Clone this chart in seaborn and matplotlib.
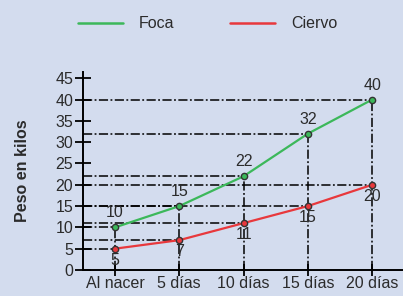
import pandas as pd
import seaborn as sns
import matplotlib.pyplot as plt
from matplotlib.lines import Line2D

# data
etapas = ['Al nacer', '5 días', '10 días', '15 días', '20 días']
foca = [10, 15, 22, 32, 40]
ciervo = [5, 7, 11, 15, 20]
y_ticks = [0, 5, 10, 15, 20, 25, 30, 35, 40, 45]

BG = '#d3dcee'
VERDE = '#3cb85a'
ROJO = '#e8383c'
TXT = '#2b2b2b'


def build_df():
    rows = []
    for i, et in enumerate(etapas):
        rows.append({'pos': i, 'etapa': et, 'peso': foca[i], 'animal': 'Foca'})
        rows.append({'pos': i, 'etapa': et, 'peso': ciervo[i], 'animal': 'Ciervo'})
    return pd.DataFrame(rows)


def main():
    sns.set_style('white')
    plt.rcParams['font.family'] = ['Liberation Sans', 'DejaVu Sans']

    df = build_df()

    fig = plt.figure(figsize=(4.03, 2.96), dpi=100, facecolor=BG)
    ax = fig.add_axes([0.206, 0.088, 0.794, 0.669])
    ax.set_facecolor(BG)

    xmin, xmax = -0.498, 4.48
    ax.set_xlim(xmin, xmax)
    ax.set_ylim(0, 46.5)

    # guide lines (dash-dot) from the axes to every point
    dash = (0, (6, 1.6, 1.2, 1.6))
    for i in range(len(etapas)):
        top = max(foca[i], ciervo[i])
        ax.plot([i, i], [0, top], color='black', lw=1.1, ls=dash, zorder=1)
        for v in (foca[i], ciervo[i]):
            ax.plot([xmin, i], [v, v], color='black', lw=1.1, ls=dash, zorder=1)

    sns.lineplot(data=df, x='pos', y='peso', hue='animal',
                 palette={'Foca': VERDE, 'Ciervo': ROJO},
                 marker='o', markersize=4.5, markeredgecolor='#333333',
                 markeredgewidth=1.0, lw=1.6, legend=False, ax=ax, zorder=3)

    # value labels
    for i in range(len(etapas)):
        ax.annotate(str(foca[i]), (i, foca[i]), xytext=(0, 5), textcoords='offset points',
                    ha='center', va='bottom', fontsize=11.5, color=TXT)
        ax.annotate(str(ciervo[i]), (i, ciervo[i]), xytext=(0, -3), textcoords='offset points',
                    ha='center', va='top', fontsize=11.5, color=TXT)

    ax.set_xticks(range(len(etapas)))
    ax.set_xticklabels(etapas)
    ax.set_yticks(y_ticks)
    ax.tick_params(axis='both', direction='inout', length=12, width=1.3,
                   left=True, bottom=True,
                   colors='black', labelcolor=TXT, labelsize=11.5, pad=1)
    ax.tick_params(axis='x', length=9, pad=0)

    for s in ['top', 'right']:
        ax.spines[s].set_visible(False)
    for s in ['left', 'bottom']:
        ax.spines[s].set_color('black')
        ax.spines[s].set_linewidth(1.4)

    ax.set_xlabel('')
    ax.set_ylabel('Peso en kilos', fontsize=11.5, fontweight='bold', color=TXT, labelpad=18)

    handles = [Line2D([], [], color=VERDE, lw=1.8), Line2D([], [], color=ROJO, lw=1.8)]
    fig.legend(handles, ['Foca', 'Ciervo'], loc='center', bbox_to_anchor=(0.515, 0.92),
               ncol=2, frameon=False, fontsize=11.5, handlelength=2.8,
               columnspacing=3.5, handletextpad=1.0, labelcolor=TXT)

    fig.savefig('out.png', dpi=100, facecolor=BG)


if __name__ == '__main__':
    main()
